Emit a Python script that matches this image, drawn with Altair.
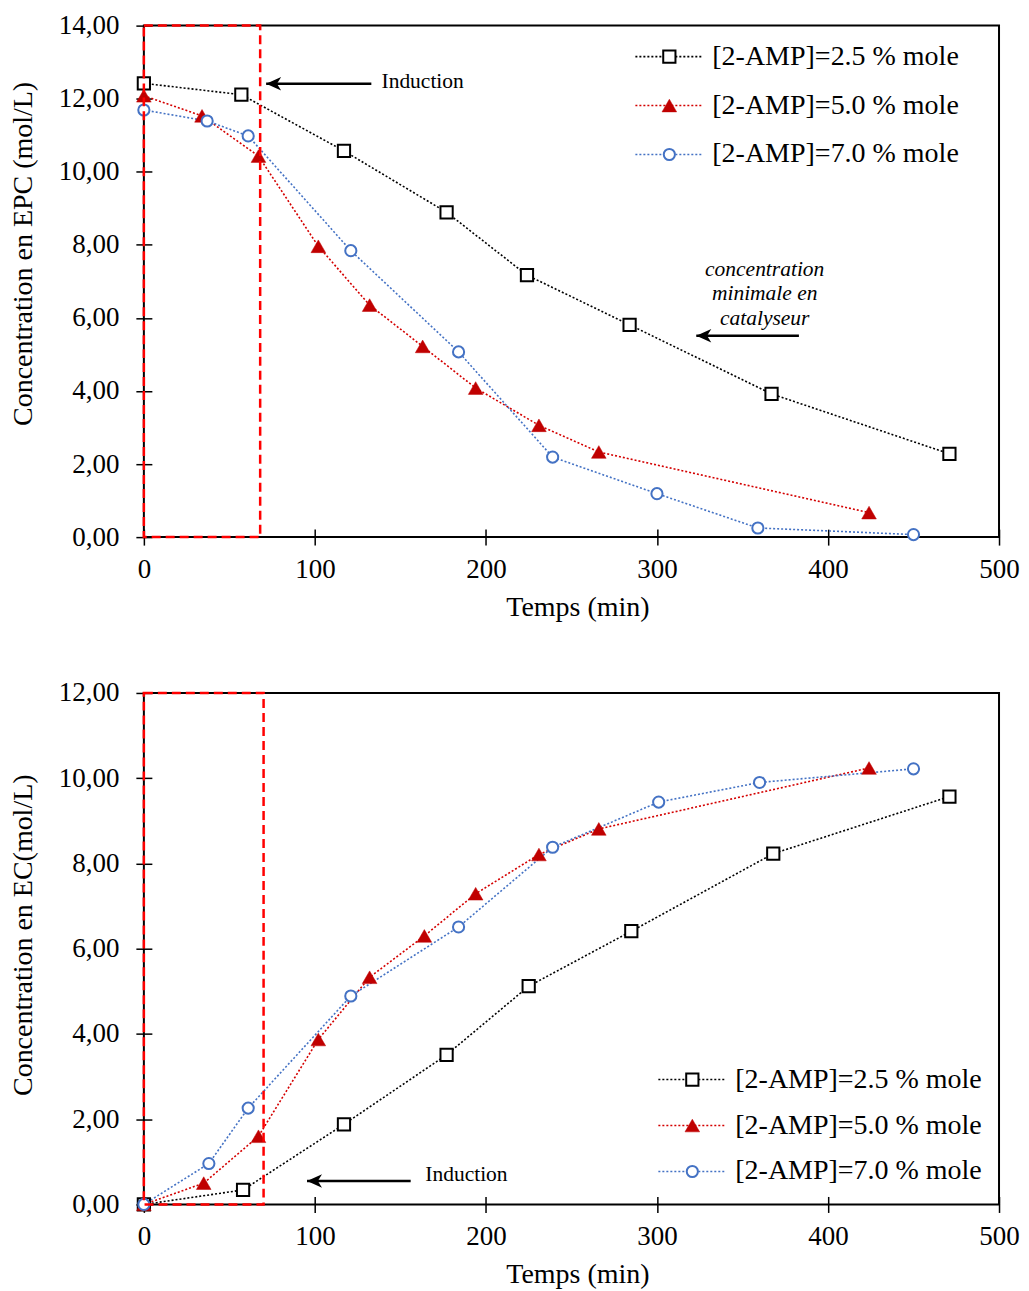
import altair as alt
import pandas as pd

FONT = "Liberation Serif"

series_labels = ["[2-AMP]=2.5 % mole", "[2-AMP]=5.0 % mole", "[2-AMP]=7.0 % mole"]
marker_shapes = ["square", "triangle-up", "circle"]
marker_sizes = [150, 215, 125]
marker_stroke_w = [2, 0.5, 2]
marker_fill = ["white", "#C00000", "white"]
marker_stroke = ["#000000", "#C00000", "#4472C4"]
line_colors = ["#000000", "#D40000", "#4472C4"]

# ---- Top panel : EPC concentration (mol/L) vs time (min)
epc_t_25 = [0, 57, 117, 177, 224, 284, 367, 471]
epc_c_25 = [12.42, 12.11, 10.57, 8.89, 7.17, 5.81, 3.92, 2.28]
epc_t_50 = [0, 34, 67, 102, 132, 163, 194, 231, 266, 424]
epc_c_50 = [12.08, 11.53, 10.43, 7.96, 6.35, 5.22, 4.08, 3.06, 2.33, 0.67]
epc_t_70 = [0, 37, 61, 121, 184, 239, 300, 359, 450]
epc_c_70 = [11.69, 11.39, 10.98, 7.84, 5.07, 2.19, 1.19, 0.25, 0.07]

# ---- Bottom panel : EC concentration (mol/L) vs time (min)
ec_t_25 = [0, 58, 117, 177, 225, 285, 368, 471]
ec_c_25 = [0.0, 0.34, 1.88, 3.51, 5.12, 6.41, 8.23, 9.57]
ec_t_50 = [0, 35, 67, 102, 132, 164, 194, 231, 266, 424]
ec_c_50 = [0.0, 0.50, 1.60, 3.87, 5.33, 6.30, 7.29, 8.21, 8.81, 10.24]
ec_t_70 = [0, 38, 61, 121, 184, 239, 301, 360, 450]
ec_c_70 = [0.0, 0.96, 2.26, 4.89, 6.51, 8.38, 9.44, 9.90, 10.22]

x_ticks = [0, 100, 200, 300, 400, 500]
top_y_ticks = [0, 2, 4, 6, 8, 10, 12, 14]
bot_y_ticks = [0, 2, 4, 6, 8, 10, 12]

# annotations (data units)
top_box = [0, 68, 0, 14]
bot_box = [0, 70, 0, 12]
top_arrows = [[133, 71.5, 12.41], [383, 323, 5.51]]
bot_arrows = [[156, 95.4, 0.55]]
top_texts = [["Induction", 163, 12.45, "normal"],
             ["concentration\nminimale en\ncatalyseur", 363, 7.31, "italic"]]
bot_texts = [["Induction", 188.6, 0.68, "normal"]]

W, H = 856, 512
LABEL_EXPR = "replace(format(datum.value, '.2f'), '.', ',')"
ARROW_HEAD = "M0,0 L1,-0.45 L0.72,0 L1,0.45 Z"


def panel(ts, cs, y_ticks, y_title, y_title_pos, box, arrows, texts, leg):
    ymax = y_ticks[-1]
    xs = alt.Scale(domain=[0, 500], nice=False)
    ys = alt.Scale(domain=[0, ymax], nice=False)
    xaxis = alt.Axis(title="Temps (min)", values=x_ticks, format="d", domain=False,
                     tickSize=16, offset=-8, labelPadding=11, titlePadding=11,
                     labelFlush=False, titleX=434, grid=False, tickColor="black",
                     tickWidth=1.5)
    yaxis = alt.Axis(title=y_title, values=y_ticks, labelExpr=LABEL_EXPR, domain=False,
                     tickSize=16, offset=-8, labelPadding=17, titlePadding=21,
                     labelFlush=False, titleY=y_title_pos, grid=False, tickColor="black",
                     tickWidth=1.5)

    def X(f):
        return alt.X(f, scale=xs, axis=xaxis)

    def Y(f):
        return alt.Y(f, scale=ys, axis=yaxis)

    layers = []
    for i in range(3):
        df = pd.DataFrame({"t": ts[i], "c": cs[i]})
        layers.append(alt.Chart(df).mark_line(strokeDash=[2, 2], strokeWidth=1.6,
                                              color=line_colors[i]).encode(x=X("t:Q"), y=Y("c:Q")))
    for i in range(3):
        df = pd.DataFrame({"t": ts[i], "c": cs[i]})
        layers.append(alt.Chart(df).mark_point(
            shape=marker_shapes[i], filled=True, fill=marker_fill[i], stroke=marker_stroke[i],
            strokeWidth=marker_stroke_w[i], size=marker_sizes[i], opacity=1
        ).encode(x=X("t:Q"), y=Y("c:Q")))

    # dashed induction box
    bdf = pd.DataFrame({"t": [box[0]], "t2": [box[1]], "c": [box[2]], "c2": [box[3]]})
    layers.append(alt.Chart(bdf).mark_rect(fillOpacity=0, stroke="#FF0000", strokeWidth=2.5,
                                           strokeDash=[9, 5]).encode(
        x=X("t:Q"), x2="t2:Q", y=Y("c:Q"), y2="c2:Q"))

    # arrows
    adf = pd.DataFrame({"t2": [a[0] for a in arrows], "t": [a[1] for a in arrows],
                        "c": [a[2] for a in arrows]})
    layers.append(alt.Chart(adf).mark_rule(color="black", strokeWidth=2.5).encode(
        x=X("t:Q"), x2=alt.X2("t2:Q"), y=Y("c:Q")))
    layers.append(alt.Chart(adf).mark_point(shape=ARROW_HEAD, filled=True, color="black",
                                            size=900, opacity=1, strokeWidth=0).encode(
        x=X("t:Q"), y=Y("c:Q")))

    # texts
    for txt, tx, ty, style in texts:
        tdf = pd.DataFrame({"t": [tx], "c": [ty]})
        layers.append(alt.Chart(tdf).mark_text(
            text=txt, font=FONT, fontSize=21.5, fontStyle=style, color="black",
            align="center", baseline="middle", lineBreak="\n", lineHeight=24.5
        ).encode(x=X("t:Q"), y=Y("c:Q")))

    # legend (pixel layout inside plot area)
    lx0, lx1, lsym, ltext, ly0, ldy = leg
    for i in range(3):
        yy = ly0 + i * ldy
        ldf = pd.DataFrame({"s": [series_labels[i]]})
        layers.append(alt.Chart(ldf).mark_rule(
            strokeDash=[2, 2], strokeWidth=1.6, color=line_colors[i]).encode(
            x=alt.value(lx0), x2=alt.value(lx1), y=alt.value(yy)))
        layers.append(alt.Chart(ldf).mark_point(
            shape=marker_shapes[i], filled=True, fill=marker_fill[i], stroke=marker_stroke[i],
            strokeWidth=marker_stroke_w[i], size=marker_sizes[i], opacity=1).encode(
            x=alt.value(lsym), y=alt.value(yy)))
        layers.append(alt.Chart(ldf).mark_text(
            font=FONT, fontSize=28, color="black", align="left", baseline="middle").encode(
            x=alt.value(ltext), y=alt.value(yy), text="s:N"))

    return alt.layer(*layers).properties(width=W, height=H)


top = panel([epc_t_25, epc_t_50, epc_t_70], [epc_c_25, epc_c_50, epc_c_70], top_y_ticks,
            "Concentration en EPC (mol/L)", 228, top_box, top_arrows, top_texts,
            (492, 558, 526, 569, 31, 49))
bottom = panel([ec_t_25, ec_t_50, ec_t_70], [ec_c_25, ec_c_50, ec_c_70], bot_y_ticks,
               "Concentration en EC(mol/L)", 242, bot_box, bot_arrows, bot_texts,
               (515, 582, 549, 592, 387, 46))

chart = alt.vconcat(top, bottom, spacing=56).properties(
    padding={"left": 0, "top": 2, "right": 0, "bottom": 0}
).configure_axis(
    labelFont=FONT, titleFont=FONT, labelFontSize=27, titleFontSize=28,
    titleFontWeight="normal", labelColor="black", titleColor="black"
).configure_view(stroke="black", strokeWidth=2)

chart.save("out.html", embed_options={"renderer": "svg", "actions": False})
